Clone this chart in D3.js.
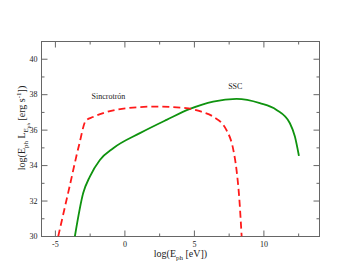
<!DOCTYPE html>
<html>
<head>
<meta charset="utf-8">
<script src="https://cdn.jsdelivr.net/npm/d3@7"></script>
<style>
	body { margin: 0; background: #fff; }
	text { font-family: "Liberation Serif", "DejaVu Serif", serif; fill: #222; }
</style>
</head>
<body>
<div id="chart"></div>
<script>
// log(E_ph) values and log(E L_E) values
var synchX = [-4.8, -4.0, -3.3, -2.81, -2.3, -1.56, 0.12, 2.3, 4.4, 5.5, 6.35, 7.3, 7.8, 8.03, 8.22, 8.4];
var synchY = [30.0, 32.75, 35.15, 36.54, 36.74, 36.96, 37.24, 37.33, 37.24, 37.04, 36.76, 36.01, 34.89, 33.76, 32.25, 30.0];

var sscX = [-3.6, -3.0, -2.52, -1.8, -0.84, 1.08, 3.0, 4.68, 6.35, 8.03, 9.71, 10.91, 11.87, 12.23, 12.52];
var sscY = [30.0, 32.45, 33.38, 34.32, 34.98, 35.83, 36.58, 37.2, 37.61, 37.76, 37.52, 37.14, 36.39, 35.64, 34.55];

var xTicks = [-5, 0, 5, 10];
var xMinor = [-2.5, 2.5, 7.5, 12.5];
var yTicks = [30, 32, 34, 36, 38, 40];
var yMinor = [31, 33, 35, 37, 39];

var labels = [
	{ text: "Sincrotrón", x: -2.4, y: 37.76 },
	{ text: "SSC", x: 7.43, y: 38.33 }
];

var W = 359, H = 278;
var margin = { top: 41.5, right: 39.5, bottom: 41.5, left: 41.5 };
var width = W - margin.left - margin.right,
	height = H - margin.top - margin.bottom;

var svg = d3.select("#chart").append("svg")
	.attr("width", W)
	.attr("height", H);

var g = svg.append("g")
	.attr("transform", "translate(" + margin.left + "," + margin.top + ")");

var x = d3.scaleLinear().domain([-6, 14]).range([0, width]);
var y = d3.scaleLinear().domain([30, 41]).range([height, 0]);

var frameColor = "#666";

// ticks, inward on all four sides
function tickLines(vals, len, horiz) {
	vals.forEach(function(v) {
		if (horiz) {
			g.append("line").attr("x1", x(v)).attr("x2", x(v)).attr("y1", height).attr("y2", height - len).attr("stroke", frameColor);
			g.append("line").attr("x1", x(v)).attr("x2", x(v)).attr("y1", 0).attr("y2", len).attr("stroke", frameColor);
		} else {
			g.append("line").attr("y1", y(v)).attr("y2", y(v)).attr("x1", 0).attr("x2", len).attr("stroke", frameColor);
			g.append("line").attr("y1", y(v)).attr("y2", y(v)).attr("x1", width).attr("x2", width - len).attr("stroke", frameColor);
		}
	});
}
tickLines(xTicks, 6, true);
tickLines(xMinor, 3, true);
tickLines(yTicks.filter(function(v) { return v > 30; }), 6, false);
tickLines(yMinor, 3, false);

g.append("rect")
	.attr("width", width)
	.attr("height", height)
	.attr("fill", "none")
	.attr("stroke", frameColor)
	.attr("stroke-width", 1);

// tick labels
g.selectAll(".xl").data(xTicks).enter().append("text")
	.attr("x", function(d) { return x(d); })
	.attr("y", height + 10)
	.attr("text-anchor", "middle")
	.style("font-size", "8px")
	.text(function(d) { return d < 0 ? "-" + Math.abs(d) : d; });

g.selectAll(".yl").data(yTicks).enter().append("text")
	.attr("x", -4)
	.attr("y", function(d) { return y(d); })
	.attr("dy", "0.32em")
	.attr("text-anchor", "end")
	.style("font-size", "8px")
	.text(function(d) { return d; });

g.append("clipPath").attr("id", "clip")
	.append("rect").attr("width", width).attr("height", height);

var line = d3.line()
	.curve(d3.curveMonotoneX)
	.x(function(d) { return x(d[0]); })
	.y(function(d) { return y(d[1]); });

var synch = d3.zip(synchX, synchY);
var ssc = d3.zip(sscX, sscY);

g.append("path")
	.attr("d", line(ssc))
	.attr("fill", "none")
	.attr("stroke", "#0f930f")
	.attr("stroke-width", 1.8)
	.attr("clip-path", "url(#clip)");

g.append("path")
	.attr("d", line(synch))
	.attr("fill", "none")
	.attr("stroke", "#ff1a1a")
	.attr("stroke-width", 1.8)
	.attr("stroke-dasharray", "7,4")
	.attr("clip-path", "url(#clip)");

g.selectAll(".ann").data(labels).enter().append("text")
	.attr("x", function(d) { return x(d.x); })
	.attr("y", function(d) { return y(d.y); })
	.style("font-size", "8px")
	.text(function(d) { return d.text; });

// x axis title
var xt = g.append("text")
	.attr("x", width / 2)
	.attr("y", height + 20)
	.attr("text-anchor", "middle")
	.style("font-size", "10px");
xt.append("tspan").text("log(E");
xt.append("tspan").attr("dy", 3).style("font-size", "7px").text("ph");
xt.append("tspan").attr("dy", -3).text(" [eV])");

// y axis title
var yt = svg.append("text")
	.attr("transform", "translate(25," + 128 + ") rotate(-90)")
	.attr("text-anchor", "middle")
	.style("font-size", "10px");
yt.append("tspan").text("log(E");
yt.append("tspan").attr("dy", 3).style("font-size", "7px").text("ph");
yt.append("tspan").attr("dy", -3).text(" L");
yt.append("tspan").attr("dy", 3).style("font-size", "7px").text("E");
yt.append("tspan").attr("dy", 2).style("font-size", "5px").text("ph");
yt.append("tspan").attr("dy", -5).text(" [erg s");
yt.append("tspan").attr("dy", -4).style("font-size", "7px").text("-1");
yt.append("tspan").attr("dy", 4).text("])");
</script>
</body>
</html>
